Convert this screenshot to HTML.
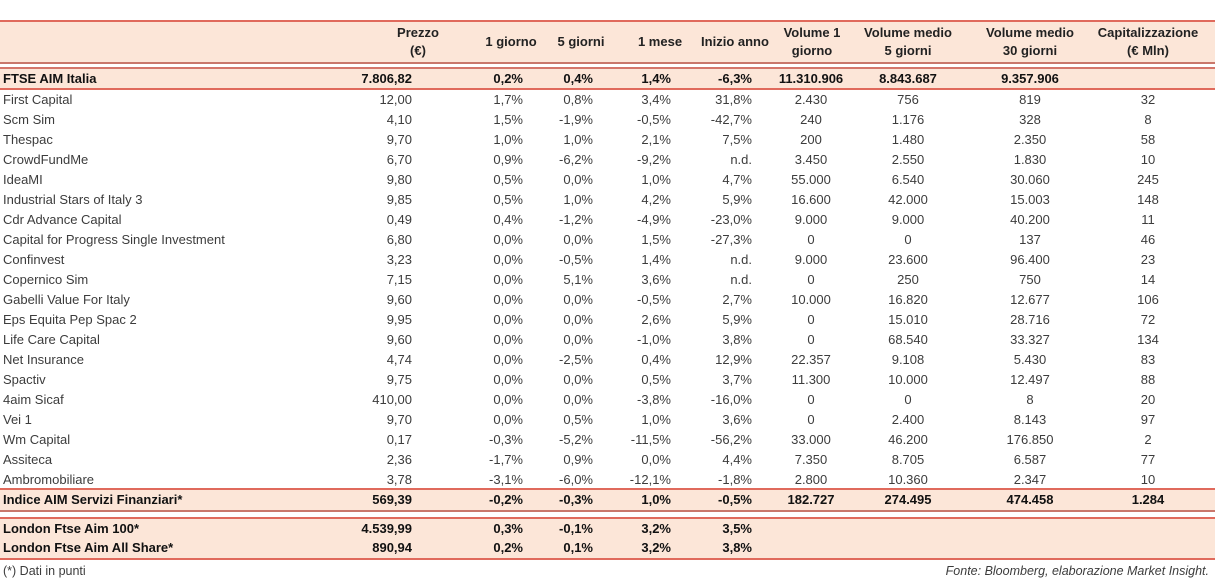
<!DOCTYPE html>
<html><head><meta charset="utf-8">
<style>
body{margin:0;width:1215px;height:581px;background:#fff;font-family:"Liberation Sans",sans-serif;position:relative;overflow:hidden;color:#3c3c3c}
.band{position:absolute;left:0;width:1215px;background:#fce6d8}
.ln{position:absolute;left:0;width:1215px;height:2px;background:#e06a5c}
.c{position:absolute;font-size:13px;white-space:nowrap;line-height:20px}
.b{font-weight:bold;color:#111}
.h{position:absolute;font-size:13px;font-weight:bold;text-align:center;line-height:18px;color:#222}
</style></head><body>
<div class="band" style="top:21px;height:42px"></div>
<div class="band" style="top:68px;height:21px"></div>
<div class="band" style="top:490px;height:21px"></div>
<div class="band" style="top:519px;height:39px"></div>
<div class="ln" style="top:20px"></div>
<div class="ln" style="top:62px;background:#c9776b"></div>
<div class="ln" style="top:67px;background:#d4766a"></div>
<div class="ln" style="top:88px"></div>
<div class="ln" style="top:488px"></div>
<div class="ln" style="top:510px;background:#c9776b"></div>
<div class="ln" style="top:517px"></div>
<div class="ln" style="top:558px"></div>
<div class="h" style="left:378px;width:80px;top:24px">Prezzo<br>(€)</div>
<div class="h" style="left:471px;width:80px;top:33px">1 giorno</div>
<div class="h" style="left:541px;width:80px;top:33px">5 giorni</div>
<div class="h" style="left:620px;width:80px;top:33px">1 mese</div>
<div class="h" style="left:690px;width:90px;top:33px">Inizio anno</div>
<div class="h" style="left:767px;width:90px;top:24px">Volume 1<br>giorno</div>
<div class="h" style="left:848px;width:120px;top:24px">Volume medio<br>5 giorni</div>
<div class="h" style="left:970px;width:120px;top:24px">Volume medio<br>30 giorni</div>
<div class="h" style="left:1083px;width:130px;top:24px">Capitalizzazione<br>(€ Mln)</div>
<div class="c" style="left:3px;top:561px;font-size:12.5px">(*) Dati in punti</div>
<div class="c" style="right:6px;top:561px;font-style:italic;font-size:12.5px">Fonte: Bloomberg, elaborazione Market Insight.</div>
<script>
const names=["FTSE AIM Italia","First Capital","Scm Sim","Thespac","CrowdFundMe","IdeaMI","Industrial Stars of Italy 3","Cdr Advance Capital","Capital for Progress Single Investment","Confinvest","Copernico Sim","Gabelli Value For Italy","Eps Equita Pep Spac 2","Life Care Capital","Net Insurance","Spactiv","4aim Sicaf","Vei 1","Wm Capital","Assiteca","Ambromobiliare","Indice AIM Servizi Finanziari*","London Ftse Aim 100*","London Ftse Aim All Share*"];
const prezzo=["7.806,82","12,00","4,10","9,70","6,70","9,80","9,85","0,49","6,80","3,23","7,15","9,60","9,95","9,60","4,74","9,75","410,00","9,70","0,17","2,36","3,78","569,39","4.539,99","890,94"];
const g1=["0,2%","1,7%","1,5%","1,0%","0,9%","0,5%","0,5%","0,4%","0,0%","0,0%","0,0%","0,0%","0,0%","0,0%","0,0%","0,0%","0,0%","0,0%","-0,3%","-1,7%","-3,1%","-0,2%","0,3%","0,2%"];
const g5=["0,4%","0,8%","-1,9%","1,0%","-6,2%","0,0%","1,0%","-1,2%","0,0%","-0,5%","5,1%","0,0%","0,0%","0,0%","-2,5%","0,0%","0,0%","0,5%","-5,2%","0,9%","-6,0%","-0,3%","-0,1%","0,1%"];
const m1=["1,4%","3,4%","-0,5%","2,1%","-9,2%","1,0%","4,2%","-4,9%","1,5%","1,4%","3,6%","-0,5%","2,6%","-1,0%","0,4%","0,5%","-3,8%","1,0%","-11,5%","0,0%","-12,1%","1,0%","3,2%","3,2%"];
const ytd=["-6,3%","31,8%","-42,7%","7,5%","n.d.","4,7%","5,9%","-23,0%","-27,3%","n.d.","n.d.","2,7%","5,9%","3,8%","12,9%","3,7%","-16,0%","3,6%","-56,2%","4,4%","-1,8%","-0,5%","3,5%","3,8%"];
const v1=["11.310.906","2.430","240","200","3.450","55.000","16.600","9.000","0","9.000","0","10.000","0","0","22.357","11.300","0","0","33.000","7.350","2.800","182.727","",""];
const v5=["8.843.687","756","1.176","1.480","2.550","6.540","42.000","9.000","0","23.600","250","16.820","15.010","68.540","9.108","10.000","0","2.400","46.200","8.705","10.360","274.495","",""];
const v30=["9.357.906","819","328","2.350","1.830","30.060","15.003","40.200","137","96.400","750","12.677","28.716","33.327","5.430","12.497","8","8.143","176.850","6.587","2.347","474.458","",""];
const cap=["","32","8","58","10","245","148","11","46","23","14","106","72","134","83","88","20","97","2","77","10","1.284","",""];
const cols=[[prezzo,"r",412,"prezzo"],[g1,"r",523,"1-giorno"],[g5,"r",593,"5-giorni"],[m1,"r",671,"1-mese"],[ytd,"r",752,"inizio-anno"],[v1,"c",811,"volume-1"],[v5,"c",908,"volume-5"],[v30,"c",1030,"volume-30"],[cap,"c",1148,"capitalizzazione"]];
function rowTop(i){if(i===0)return 69;if(i<=20)return 90+(i-1)*20;if(i===21)return 490;return 519+(i-22)*19;}
const bold=i=>i===0||i>=21;
names.forEach((n,i)=>{
  const t=rowTop(i);
  const d=document.createElement('div');
  d.className='c'+(bold(i)?' b':'');
  d.style.left='3px';d.style.top=t+'px';d.textContent=n;
  
  
  document.body.appendChild(d);
  cols.forEach(([arr,al,x,nm])=>{
    if(!arr[i])return;
    const e=document.createElement('div');
    e.className='c'+(bold(i)?' b':'');
    e.style.top=t+'px';e.textContent=arr[i];
    if(al==='r'){e.style.right=(1215-x)+'px';}
    else{e.style.left=(x-60)+'px';e.style.width='120px';e.style.textAlign='center';}
    
    
    document.body.appendChild(e);
  });
});
</script>
</body></html>
